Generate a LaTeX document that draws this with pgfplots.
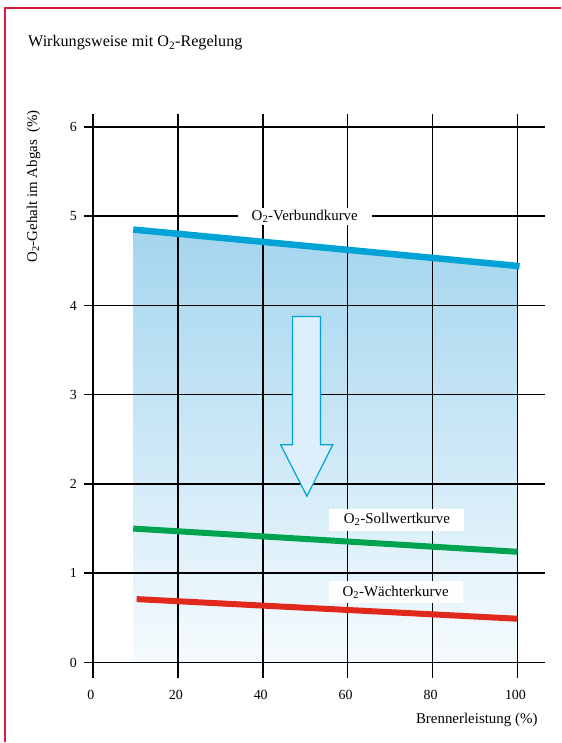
\documentclass[border=0pt]{standalone}
\usepackage{fontspec}
\setmainfont{Liberation Serif}
\usepackage{pgfplots}
\pgfplotsset{compat=1.18}
\definecolor{vblue}{RGB}{0,163,214}
\definecolor{vgreen}{RGB}{0,163,80}
\definecolor{vred}{RGB}{224,40,28}
\definecolor{fillblue}{RGB}{163,213,238}
\definecolor{fillbottom}{RGB}{246,251,254}
\definecolor{arrowfill}{RGB}{221,239,250}
\definecolor{framered}{RGB}{214,30,60}
\begin{document}
\begin{tikzpicture}
\path (0bp,0bp) rectangle (561bp,743bp);
\draw[framered, line width=1.2bp] (5bp,0bp) -- (5bp,735bp) -- (561bp,735bp);
\node[anchor=base west, inner sep=0pt, font=\fontsize{16.2}{19}\selectfont] at (28bp,696bp) {Wirkungsweise mit O\textsubscript{2}-Regelung};
\begin{axis}[
  at={(84.5bp,64.8bp)}, anchor=south west,
  scale only axis, width=461bp, height=564.6bp,
  xmin=-2, xmax=106.5, ymin=-0.17, ymax=6.15,
  set layers,
  axis line style={draw=none},
  tick style={draw=none},
  grid=major,
  major grid style={black, line width=1.6bp},
  xtick={0,20,40,60,80,100},
  ytick={0,1,2,3,4,5,6},
  ticklabel style={font=\fontsize{14}{17}\selectfont},
  xticklabel style={yshift=-9bp, xshift=-2bp},
  yticklabel style={xshift=-4bp},
  /pgf/number format/assume math mode=true,
  xlabel={Brennerleistung (\%)},
  xlabel style={at={(axis description cs:0.984,0)}, anchor=east, inner sep=0pt, yshift=-42bp, font=\fontsize{15}{18}\selectfont},
  ylabel={O\textsubscript{2}-Gehalt im Abgas\enspace(\%)},
  ylabel style={at={(axis description cs:-0.1106,0.871)}, anchor=center, font=\fontsize{15}{18}\selectfont},
]
\addplot[on layer=axis background, draw=none, top color=fillblue, bottom color=fillbottom]
  coordinates {(9.5,0) (9.5,4.85) (100,4.45) (100,0)};
\addplot[vblue, line width=6.5bp] coordinates {(9.5,4.85) (100.5,4.44)};
\addplot[vgreen, line width=6bp] coordinates {(9.5,1.50) (100,1.24)};
\addplot[vred, line width=6bp] coordinates {(10.3,0.71) (100,0.49)};
\addplot[draw=vblue, fill=arrowfill, line width=1.2bp, line join=miter]
  coordinates {(47.0,3.877) (53.6,3.877) (53.6,2.44) (56.5,2.44) (50.4,1.862) (44.2,2.44) (47.0,2.44)} -- cycle;
\node[fill=white, minimum width=134bp, minimum height=17bp, inner sep=0pt, font=\fontsize{15}{18}\selectfont] at (axis cs:49.9,5.0) {O\textsubscript{2}-Verbundkurve};
\node[fill=white, minimum width=135bp, minimum height=22bp, inner sep=0pt, font=\fontsize{15}{18}\selectfont] at (axis cs:71.6,1.60) {O\textsubscript{2}-Sollwertkurve};
\node[fill=white, minimum width=134bp, minimum height=22bp, inner sep=0pt, font=\fontsize{15}{18}\selectfont] at (axis cs:71.3,0.79) {O\textsubscript{2}-Wächterkurve};
\end{axis}
\end{tikzpicture}
\end{document}
